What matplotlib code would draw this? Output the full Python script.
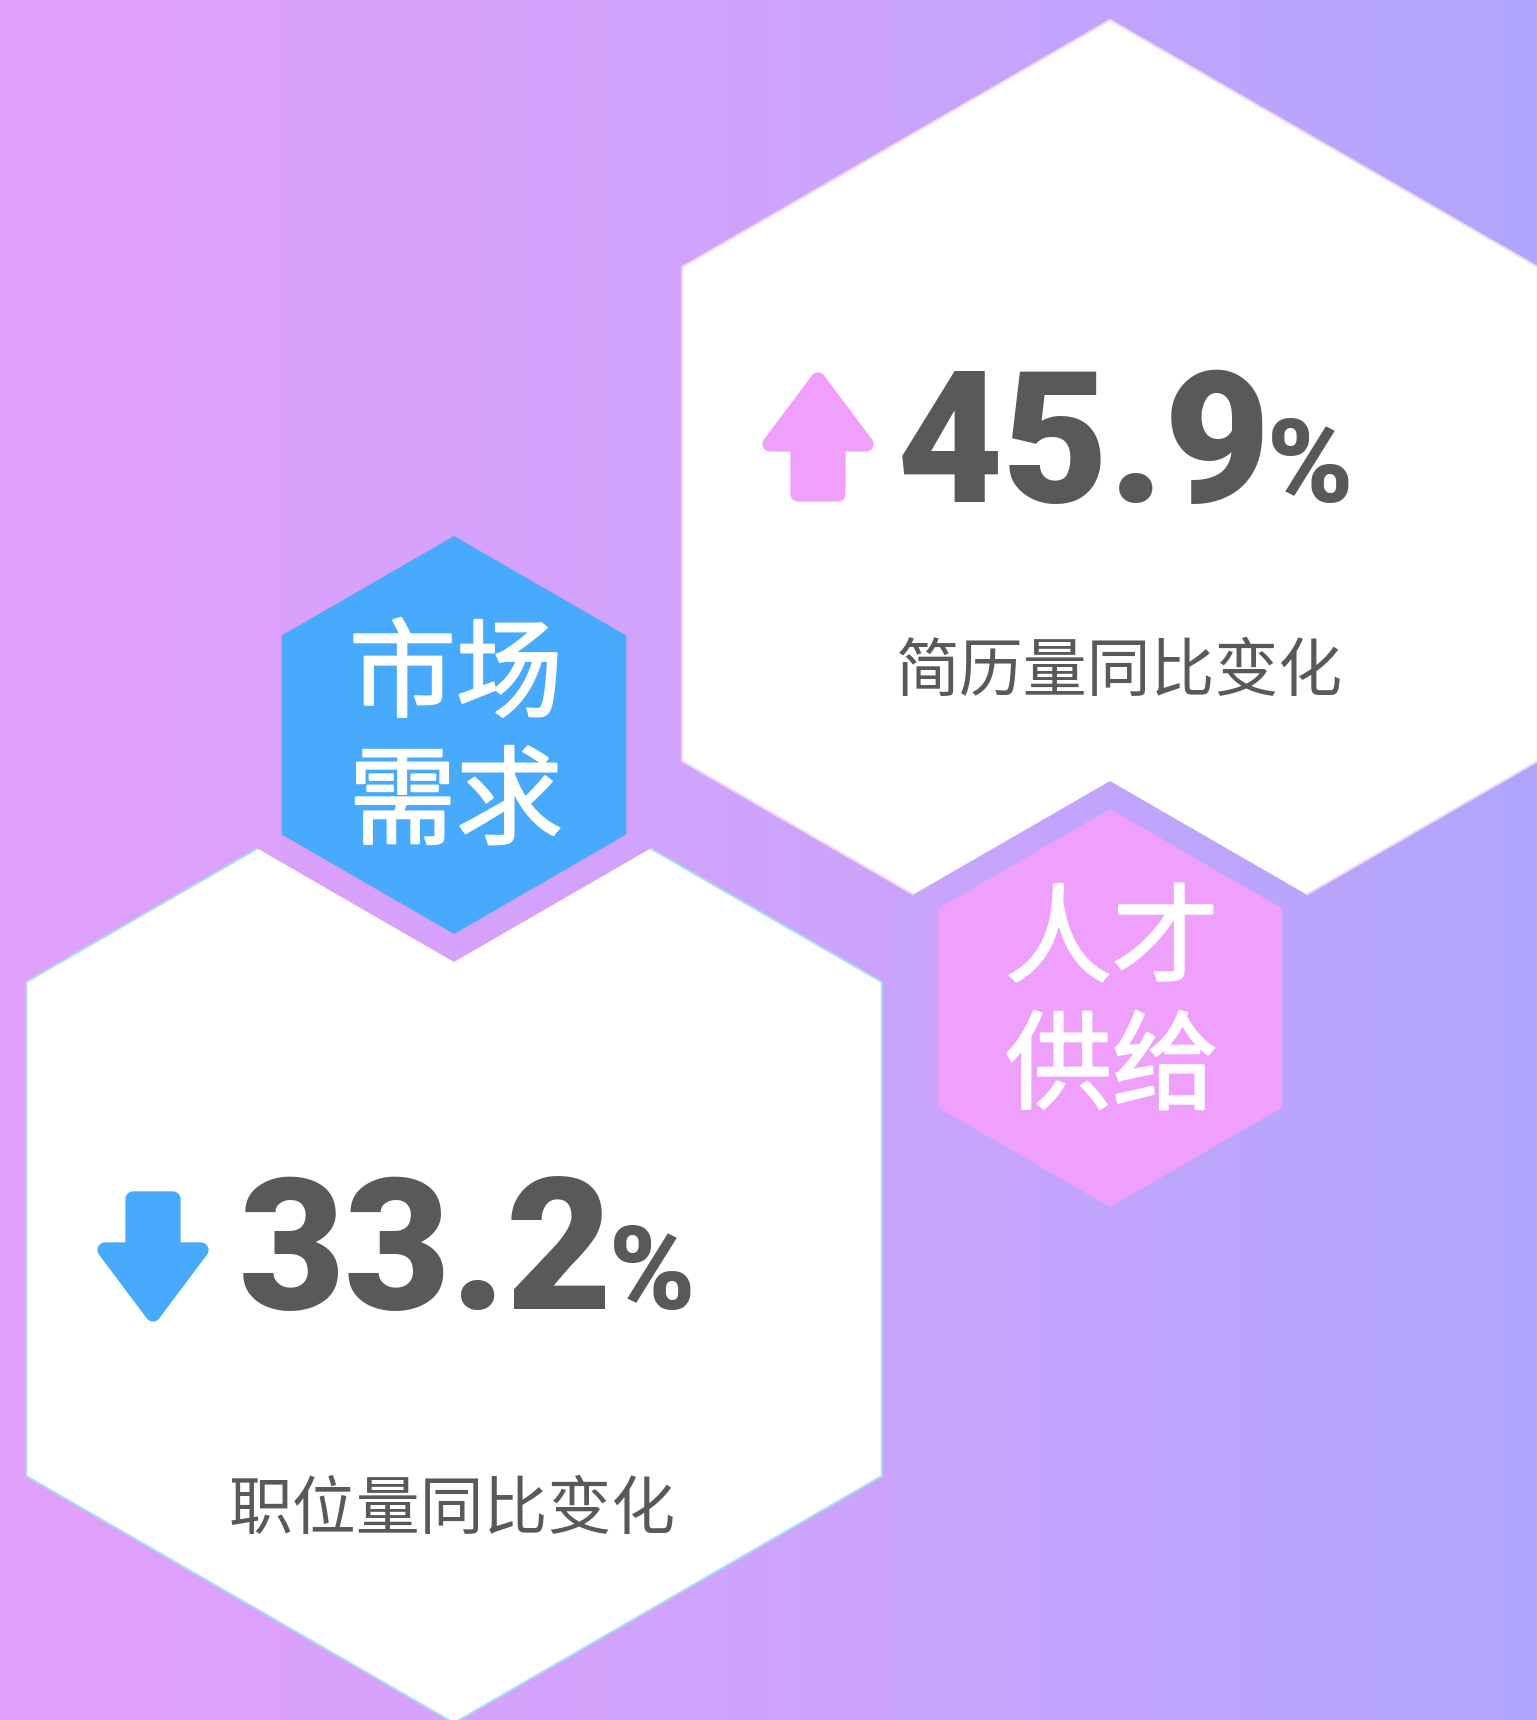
import numpy as np
import matplotlib
matplotlib.use('Agg')
import matplotlib.pyplot as plt
from matplotlib.patches import Polygon
from matplotlib.colors import LinearSegmentedColormap
import matplotlib.patheffects as pe

# ---- data ----
categories = ['人才供给', '市场需求']
metrics = ['简历量同比变化', '职位量同比变化']
values = [45.9, 33.2]
directions = ['up', 'down']

# ---- layout / styles (pixel coordinates, y down) ----
W, H = 1537, 1720
R_BIG, R_SMALL, R_NOTCH = 494, 199, 227
small_centers = [(1110, 1008), (454, 735)]
# the small hexagon sits centred on a vertex of its big hexagon
big_centers = [(1110, 1008 - R_BIG), (454, 735 + R_BIG)]
small_colors = ['#EEA0FC', '#48AAFC']
arrow_colors = ['#F0A0FC', '#48AAFC']
edge_colors = ['#F4D8FA', '#A8DDF2']
GRAY = '#595959'
num_pos = [(897, 502), (239, 1309)]
label_pos = [(1119, 673), (452, 1511)]
arrow_cx = [818, 153]
cat_lines_y = [(943, 1070), (678, 805)]

CJK = ['Noto Sans CJK SC', 'DejaVu Sans']
NUMF = ['Roboto', 'DejaVu Sans']

fig = plt.figure(figsize=(W / 100, H / 100), dpi=100)
ax = fig.add_axes([0, 0, 1, 1])
ax.set_xlim(0, W)
ax.set_ylim(H, 0)
ax.axis('off')

# background gradient
cmap = LinearSegmentedColormap.from_list('bg', ['#E2A0FC', '#CFA4FC', '#B0A6FC'])
grad = np.linspace(0, 1, 512)[None, :].repeat(4, axis=0)
ax.imshow(grad, cmap=cmap, extent=(0, W, H, 0), aspect='auto', zorder=0)


def hex_pts(cx, cy, r):
    ang = np.deg2rad([-90, -30, 30, 90, 150, 210])
    return np.column_stack([cx + r * np.cos(ang), cy + r * np.sin(ang)])


for i in range(2):
    bx, by = big_centers[i]
    big = Polygon(hex_pts(bx, by, R_BIG), closed=True, facecolor='white',
                  edgecolor=edge_colors[i], linewidth=1.5, zorder=1)
    ax.add_patch(big)
    sx, sy = small_centers[i]
    notch = Polygon(hex_pts(sx, sy, R_NOTCH), closed=True, transform=ax.transData)
    im = ax.imshow(grad, cmap=cmap, extent=(0, W, H, 0), aspect='auto', zorder=2)
    im.set_clip_path(notch)
    small = Polygon(hex_pts(sx, sy, R_SMALL), closed=True, facecolor=small_colors[i],
                    edgecolor='none', zorder=3)
    ax.add_patch(small)
    # category text (two lines of two characters)
    cat = categories[i]
    for line, yy in zip([cat[:2], cat[2:]], cat_lines_y[i]):
        ax.text(sx + 2, yy, line, color='white', fontsize=77, family=CJK,
                fontweight='normal', ha='center', va='center', zorder=4,
                path_effects=[pe.withStroke(linewidth=1.6, foreground='white')])

# arrows
def arrow_pts(cx, top, bottom, head_w, shaft_w, head_len, up=True):
    hw, sw = head_w / 2, shaft_w / 2
    if up:
        base = top + head_len
        return [(cx, top), (cx + hw, base), (cx + sw, base), (cx + sw, bottom),
                (cx - sw, bottom), (cx - sw, base), (cx - hw, base)]
    else:
        base = bottom - head_len
        return [(cx, bottom), (cx + hw, base), (cx + sw, base), (cx + sw, top),
                (cx - sw, top), (cx - sw, base), (cx - hw, base)]

arrow_spans = [(380, 494), (1199, 1314)]
for i in range(2):
    t, b = arrow_spans[i]
    pts = arrow_pts(arrow_cx[i], t, b, 96, 40, 64, up=(directions[i] == 'up'))
    ax.add_patch(Polygon(pts, closed=True, facecolor=arrow_colors[i],
                         edgecolor=arrow_colors[i], linewidth=11, joinstyle='round', zorder=4))

fig.canvas.draw()
renderer = fig.canvas.get_renderer()
inv = ax.transData.inverted()

for i in range(2):
    x, y = num_pos[i]
    t = ax.text(x, y, f'{values[i]:.1f}', color=GRAY, fontsize=132, family=NUMF,
                fontweight='black', ha='left', va='baseline', zorder=4)
    bb = t.get_window_extent(renderer)
    xr = inv.transform((bb.x1, bb.y0))[0]
    ax.text(xr - 4, y, '%', color=GRAY, fontsize=84, family=NUMF,
            fontweight='black', ha='left', va='baseline', zorder=4)
    lx, ly = label_pos[i]
    ax.text(lx, ly, metrics[i], color=GRAY, fontsize=46, family=CJK,
            ha='center', va='center', zorder=4)

fig.savefig('out.png', dpi=100)
